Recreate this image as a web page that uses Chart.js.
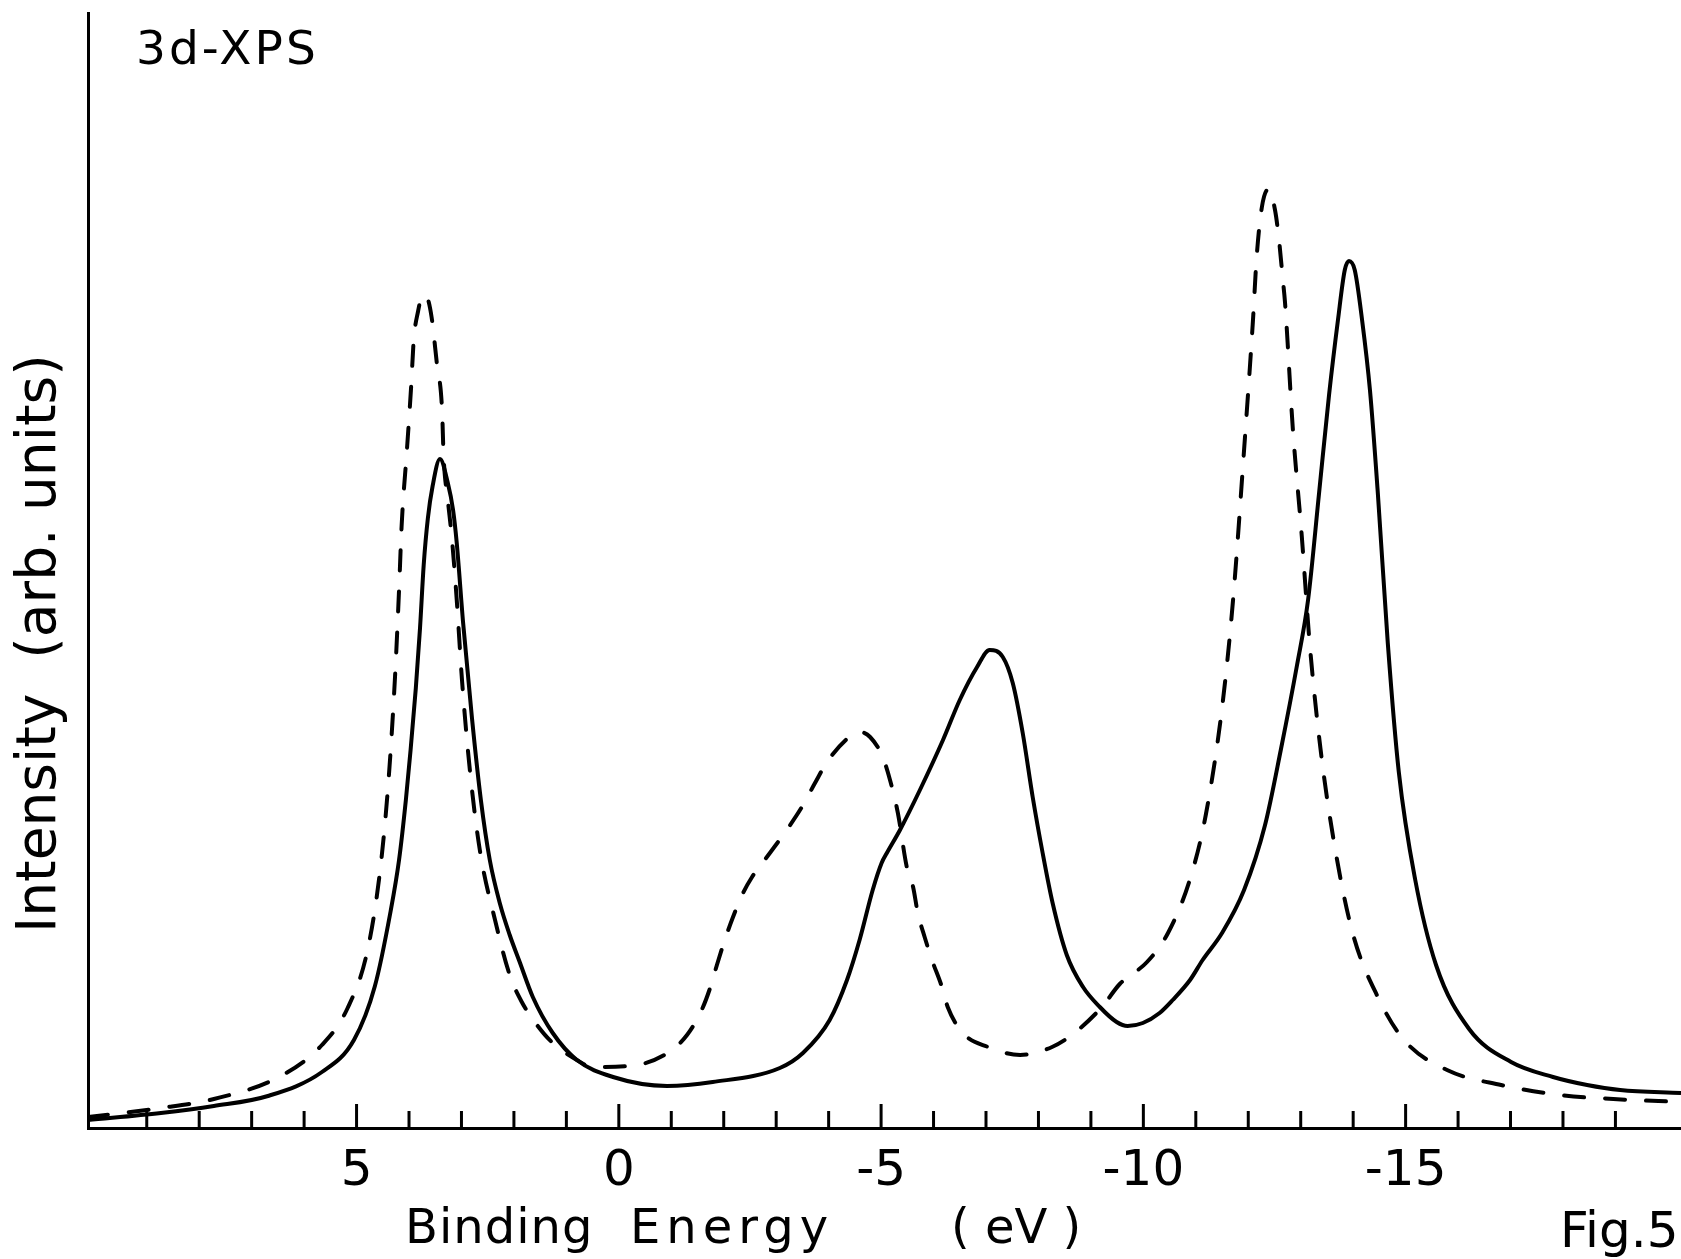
<!DOCTYPE html>
<html>
<head>
<meta charset="utf-8">
<script src="https://cdn.jsdelivr.net/npm/chart.js@4.4.1/dist/chart.umd.min.js"></script>
<style>
  body { margin: 0; background: #fff; }
</style>
</head>
<body>
<canvas id="myChart" width="1681" height="1259"></canvas>
<script>
// binding energy (eV) and intensity (arb. units)
var solidEnergy = [10.12, 8.73, 7.72, 6.69, 5.66, 5.05, 4.65, 4.35, 4.19, 4.06, 3.97, 3.87, 3.79, 3.72, 3.64, 3.55, 3.41,
  3.26, 3.16, 3.09, 2.97, 2.80, 2.63, 2.46, 2.27, 2.08, 1.89, 1.64, 1.26, 0.80, 0.11, -0.92, -1.79, -3.07,
  -3.51, -4.02, -4.35, -4.59, -4.84, -5.01, -5.11, -5.36, -5.74, -6.18, -6.50, -6.83, -7.07,
  -7.32, -7.51, -7.70, -7.89, -8.08, -8.27, -8.54, -8.85, -9.17, -9.49, -9.70, -9.99, -10.31,
  -10.56, -10.89, -11.13, -11.50, -11.92, -12.32, -12.62, -12.93, -13.14, -13.35, -13.54, -13.71,
  -13.84, -13.92, -14.03, -14.17, -14.32, -14.47, -14.66, -14.87, -15.18, -15.58, -16.21, -17.01,
  -17.81, -18.46, -19.09, -20.25];
var solidIntensity = [0.8, 1.5, 2.2, 3.2, 5.6, 8.8, 14.2, 21.7, 26.8, 32.8, 37.8, 44.0, 50.0, 56.3, 61.0, 64.2, 66.9,
  64.5, 61.8, 58.5, 50.6, 41.0, 32.8, 26.8, 22.5, 19.3, 16.6, 13.1, 9.5, 6.8, 5.1, 4.2, 4.6, 6.0,
  7.5, 10.8, 14.8, 18.8, 23.8, 26.5, 27.5, 29.8, 33.8, 38.8, 42.8, 46.1, 47.8,
  47.1, 44.5, 39.5, 33.1, 27.5, 22.5, 17.3, 14.1, 12.1, 10.6, 10.2, 10.5, 11.5,
  12.8, 14.8, 16.8, 19.5, 23.8, 30.3, 37.8, 46.3, 52.8, 63.5, 73.3, 80.8,
  85.8, 86.7, 85.8, 80.8, 73.8, 63.5, 48.5, 35.6, 24.9, 16.3, 9.9, 6.6,
  5.1, 4.3, 3.8, 3.5];

var dashedEnergy = [10.12, 8.73, 7.72, 6.48, 5.66, 5.17, 4.79, 4.55, 4.39, 4.27, 4.19, 4.14, 4.04, 3.96, 3.91,
  3.83, 3.74, 3.66, 3.57, 3.47, 3.37, 3.34, 3.26, 3.18, 3.09, 2.99, 2.84, 2.65, 2.36, 2.08,
  1.85, 1.56, 1.26, 0.80, 0.50, -0.21, -0.93, -1.30, -1.58, -1.74, -1.87, -2.02, -2.17, -2.35,
  -2.54, -2.88, -3.20, -3.49, -3.74, -3.97, -4.37, -4.59, -4.79, -5.03, -5.17, -5.32, -5.49,
  -5.61, -5.70, -5.83, -5.97, -6.16, -6.27, -6.56, -7.04, -7.65, -8.26, -8.66, -9.21, -9.55,
  -10.07, -10.47, -10.89, -11.19, -11.50, -11.71, -11.92, -12.09, -12.16, -12.26, -12.39, -12.51,
  -12.58, -12.66, -12.70, -12.85, -13.02, -13.17, -13.38, -13.65, -13.99, -14.47, -14.97, -15.79,
  -16.82, -17.94, -18.96, -20.25];
var dashedIntensity = [1.1, 2.0, 2.9, 5.1, 8.3, 12.0, 17.8, 25.8, 34.8, 44.8, 53.8, 60.3, 67.8, 74.1, 78.8,
  81.6, 83.3, 83.1, 81.1, 76.5, 71.8, 67.1, 62.8, 58.8, 52.8, 44.8, 35.8, 27.8, 20.8, 15.3,
  12.6, 10.3, 8.5, 6.8, 6.1, 6.2, 7.5, 9.3, 11.8, 14.0, 16.3, 18.8, 21.0, 23.3,
  25.1, 27.5, 29.8, 32.1, 34.5, 36.6, 39.0, 39.6, 39.1, 37.1, 34.8, 31.5, 26.1,
  24.1, 21.5, 19.1, 16.8, 14.1, 12.1, 9.5, 8.1, 7.3, 8.1, 9.4, 12.1, 14.4,
  16.6, 19.5, 24.9, 31.3, 42.0, 52.8, 67.8, 80.8, 87.1, 92.1, 93.9, 91.8,
  89.1, 84.8, 82.6, 69.9, 59.2, 48.5, 37.8, 28.1, 19.5, 13.1, 8.8, 5.8,
  4.3, 3.3, 2.9, 2.6];

var tickLabels = [5, 0, -5, -10, -15];
var tickMarks = [9, 8, 7, 6, 5, 4, 3, 2, 1, 0, -1, -2, -3, -4, -5, -6, -7, -8, -9, -10,
  -11, -12, -13, -14, -15, -16, -17, -18, -19];
var xMin = -20.25, xMax = 10.12;
var yMin = 0, yMax = 111.5;

var fontFam = "'DejaVu Sans', sans-serif";

function toPoints(xs, ys) {
  var pts = [];
  for (var i = 0; i < xs.length; i++) pts.push({ x: xs[i], y: ys[i] });
  return pts;
}

// inward tick marks and the loose lettering of the figure
var decor = {
  id: "decor",
  afterDraw: function (chart) {
    var ctx = chart.ctx, xs = chart.scales.x, area = chart.chartArea;
    ctx.save();
    ctx.strokeStyle = "#000";
    ctx.lineWidth = 3;
    tickMarks.forEach(function (v) {
      var px = xs.getPixelForValue(v);
      var len = tickLabels.indexOf(v) >= 0 ? 24 : 17;
      ctx.beginPath();
      ctx.moveTo(px, area.bottom);
      ctx.lineTo(px, area.bottom - len);
      ctx.stroke();
    });

    ctx.fillStyle = "#000";
    ctx.textBaseline = "alphabetic";
    ctx.textAlign = "left";

    ctx.font = "47px " + fontFam;
    ctx.letterSpacing = "3px";
    ctx.fillText("3d-XPS", 136, 64);

    ctx.font = "48px " + fontFam;
    ctx.letterSpacing = "1px";
    ctx.fillText("Binding", 405, 1243);
    ctx.letterSpacing = "6px";
    ctx.fillText("Energy", 630, 1243);
    ctx.letterSpacing = "0px";
    ctx.fillText("( eV )", 951, 1243);
    ctx.font = "50px " + fontFam;
    ctx.fillText("Fig.5", 1560, 1247);

    ctx.translate(55, 933);
    ctx.rotate(-Math.PI / 2);
    ctx.font = "55px " + fontFam;
    ctx.fillText("Intensity  (arb. units)", 0, 0);
    ctx.restore();
  }
};

var ch = document.getElementById("myChart");
new Chart(ch, {
  type: "scatter",
  data: {
    datasets: [
      {
        label: "solid",
        data: toPoints(solidEnergy, solidIntensity),
        showLine: true,
        borderColor: "#000",
        borderWidth: 4,
        pointRadius: 0,
        cubicInterpolationMode: "monotone"
      },
      {
        label: "dashed",
        data: toPoints(dashedEnergy, dashedIntensity),
        showLine: true,
        borderColor: "#000",
        borderWidth: 4,
        borderDash: [20, 21],
        borderCapStyle: "round",
        pointRadius: 0,
        cubicInterpolationMode: "monotone"
      }
    ]
  },
  options: {
    responsive: false,
    animation: false,
    devicePixelRatio: 1,
    layout: { padding: { top: 13, right: 0, bottom: 0, left: 0 } },
    plugins: {
      legend: { display: false },
      tooltip: { enabled: false }
    },
    scales: {
      x: {
        type: "linear",
        reverse: true,
        min: xMin,
        max: xMax,
        grid: { display: false, drawTicks: false },
        border: { display: true, color: "#000", width: 3 },
        ticks: {
          stepSize: 5,
          includeBounds: false,
          autoSkip: false,
          maxRotation: 0,
          padding: 14,
          color: "#000",
          font: { family: fontFam, size: 50 },
          callback: function (v) {
            return tickLabels.indexOf(v) >= 0 ? String(v) : null;
          }
        },
        afterFit: function (s) { s.height = 131; }
      },
      y: {
        min: yMin,
        max: yMax,
        grid: { display: false, drawTicks: false },
        border: { display: true, color: "#000", width: 3 },
        ticks: { display: false },
        afterFit: function (s) { s.width = 88; }
      }
    }
  },
  plugins: [decor]
}); //end of chart
</script>
</body>
</html>
